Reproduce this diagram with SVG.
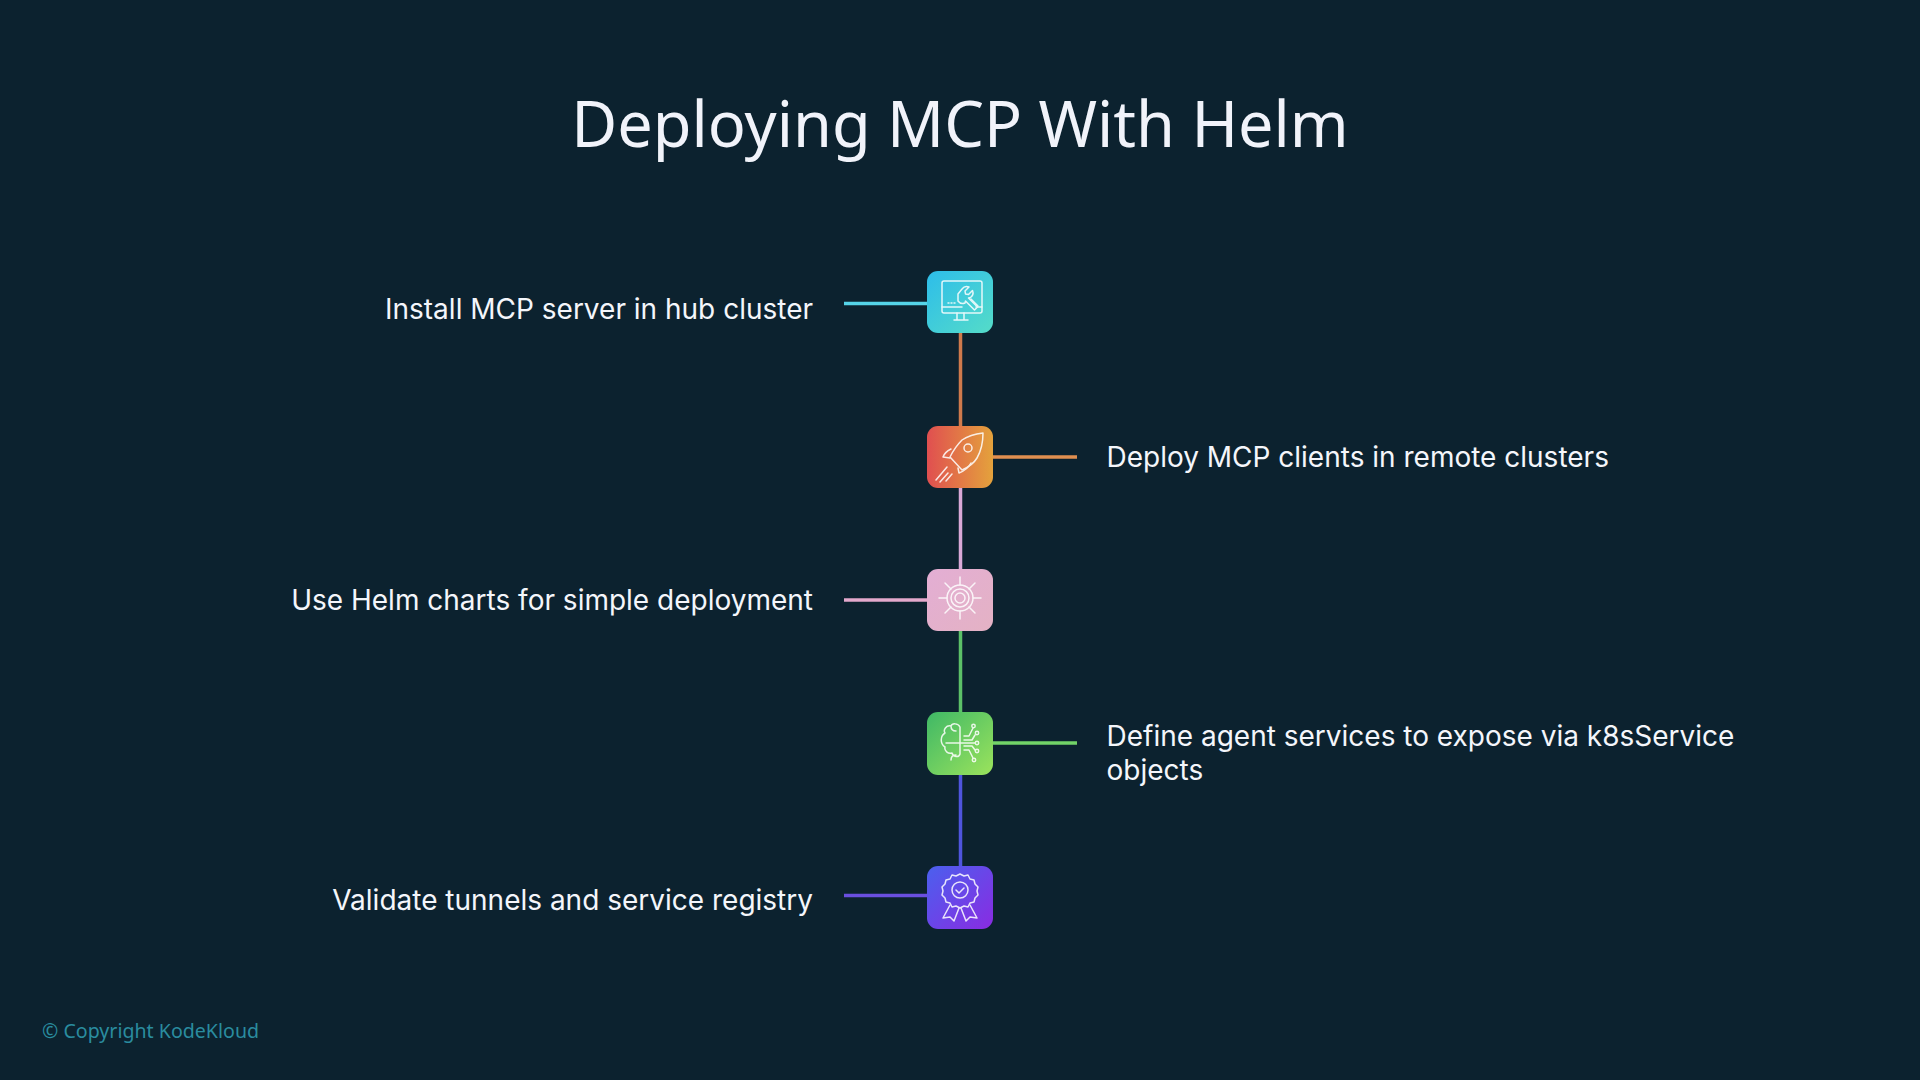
<svg xmlns="http://www.w3.org/2000/svg" width="1920" height="1080" viewBox="0 0 1920 1080">
<style>
.bg{fill:#0c222f}
.title{font-family:"Noto Sans","Open Sans",sans-serif;font-size:63px;fill:#f1f3fa;text-anchor:middle}
.lbl{font-family:"Inter","Liberation Sans",sans-serif;font-size:28px;fill:#f4f6fb}
.end{text-anchor:end}
.copy{font-family:"Noto Sans","Open Sans",sans-serif;font-size:19.6px;fill:#2a8c9f}
.c{fill:none;stroke-width:3.5}
.i{fill:none;stroke:#fff;stroke-width:1.5;stroke-linecap:round;stroke-linejoin:round;opacity:.85}
</style>
<defs>
<linearGradient id="g1" x1="0" y1="0" x2="1" y2="1"><stop offset="0" stop-color="#2dbdea"/><stop offset="1" stop-color="#55dcc8"/></linearGradient>
<linearGradient id="g2" x1="0" y1="0" x2="1" y2="0"><stop offset="0" stop-color="#e04f50"/><stop offset="1" stop-color="#e4a23c"/></linearGradient>
<linearGradient id="g3" x1="0" y1="0" x2="1" y2="1"><stop offset="0" stop-color="#e3aed4"/><stop offset="1" stop-color="#e4b2c4"/></linearGradient>
<linearGradient id="g4" x1="0" y1="0" x2="1" y2="1"><stop offset="0" stop-color="#3fb866"/><stop offset="1" stop-color="#9be35c"/></linearGradient>
<linearGradient id="g5" x1="0" y1="0" x2="1" y2="1"><stop offset="0" stop-color="#4a60ee"/><stop offset="1" stop-color="#8a2be2"/></linearGradient>
</defs>
<rect class="bg" width="1920" height="1080"/>
<text class="title" x="960" y="146.500">Deploying MCP With Helm</text>
<g id="connectors">
<path class="c" stroke="#55d4e8" d="M844 303.500H927"/>
<path class="c" stroke="#cf7a4c" d="M960.5 333V426"/>
<path class="c" stroke="#e08f50" d="M993 457H1077"/>
<path class="c" stroke="#d9a9d8" d="M960.5 488V569"/>
<path class="c" stroke="#e3a9cc" d="M844 600H927"/>
<path class="c" stroke="#5cc168" d="M960.5 631V712"/>
<path class="c" stroke="#72d468" d="M993 743H1077"/>
<path class="c" stroke="#4f55dd" d="M960.5 775V866"/>
<path class="c" stroke="#6a4fe0" d="M844 895.500H927"/>
</g>
<g id="node1">
<rect x="927" y="271" width="66" height="62" rx="11" fill="url(#g1)"/>
<g class="i"><rect x="942" y="281" width="40" height="32" rx="2"/><path d="M942 307H962M976 307H982M957 313v7M964 313v7M954 320H968M948 303h1M951 303h1M954 303h1"/><path d="M958 294l4-5a6 6 0 0 1 7-2l-4 4 .5 3 3 .5 4-4a6 6 0 0 1-2 7l-2 .5 9 9-3 3-9-9-.5 2a6 6 0 0 1-7-2l0-3z"/><path d="M971 299l7 7"/></g>
<text class="lbl end" x="813" y="319">Install MCP server in hub cluster</text>
</g>
<g id="node2">
<rect x="927" y="426" width="66" height="62" rx="11" fill="url(#g2)"/>
<g class="i"><path d="M983 433c-8 1-15 3-21 7-5 5-9 11-12 17l12 13c7-3 12-7 15-12 4-7 6-16 6-25z"/><circle cx="968" cy="448" r="4"/><path d="M951 449c-4 2-7 5-8 8l7 1M971 463c-2 4-7 8-12 10l-1-5"/><path d="M936 480l11-13M940 482l8-9M946 481l6-7"/></g>
<text class="lbl" x="1106.500" y="467">Deploy MCP clients in remote clusters</text>
</g>
<g id="node3">
<rect x="927" y="569" width="66" height="62" rx="11" fill="url(#g3)"/>
<g class="i"><circle cx="960" cy="598" r="13"/><circle cx="960" cy="598" r="9"/><circle cx="960" cy="598" r="5"/><path d="M960 577v8M960 611v8M939 598h8M973 598h8M945 583l6 6M975 583l-6 6M945 613l6-6M975 613l-6-6"/></g>
<text class="lbl end" x="813" y="610">Use Helm charts for simple deployment</text>
</g>
<g id="node4">
<rect x="927" y="712" width="66" height="63" rx="11" fill="url(#g4)"/>
<g class="i"><path d="M960 727c-2-4-8-4-9-1-5-1-8 4-6 7-5 3-5 11 0 14-1 4 3 7 7 6 1 4 7 5 8 1V727zM960 743H946M951 726c0 3 2 5 5 5M951 760c0-3 2-5 5-5"/><path d="M964 736h5l4-8M964 740h8l3-5M960 743h15M964 746h8l3 4M964 750h5l4 8"/><circle cx="973.500" cy="726" r="1.700"/><circle cx="977" cy="733" r="1.700"/><circle cx="977" cy="743" r="1.700"/><circle cx="977" cy="751" r="1.700"/><circle cx="974" cy="760" r="1.700"/></g>
<text class="lbl" x="1106.500" y="746">Define agent services to expose via k8sService</text>
<text class="lbl" x="1106.500" y="780">objects</text>
</g>
<g id="node5">
<rect x="927" y="866" width="66" height="63" rx="11" fill="url(#g5)"/>
<g class="i"><path d="M960 874l4 2 4-1 2 4 4 1 1 4 3 3-1 4 1 4-3 3-1 4-4 1-2 4-4-1-4 2-4-2-4 1-2-4-4-1-1-4-3-3 1-4-1-4 3-3 1-4 4-1 2-4 4 1z"/><circle cx="960" cy="890" r="8"/><path d="M956 890l3 3 5-5M950 905l-7 13 7-1 4 4 5-13M970 905l7 13-7-1-4 4-5-13"/></g>
<text class="lbl end" x="813" y="910">Validate tunnels and service registry</text>
</g>
<text class="copy" x="42" y="1038">© Copyright KodeKloud</text>
</svg>
